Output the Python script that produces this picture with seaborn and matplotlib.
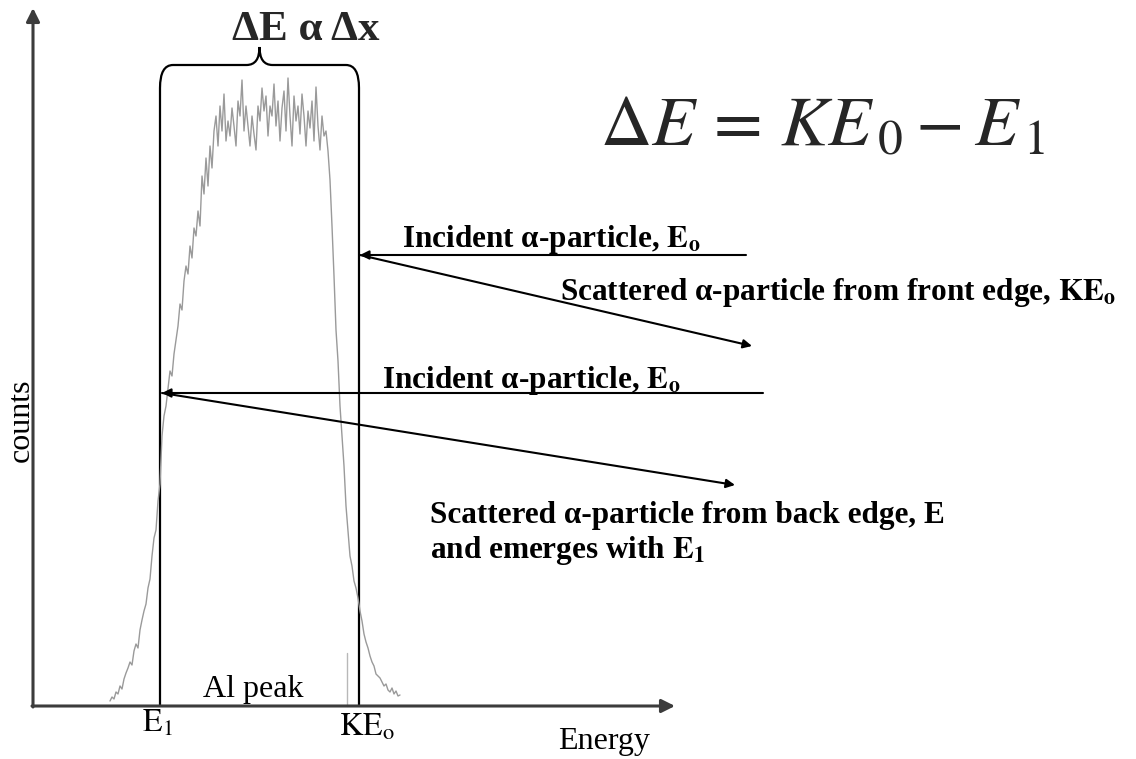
import numpy as np
import matplotlib
matplotlib.use("Agg")
import matplotlib.pyplot as plt
from matplotlib.path import Path
from matplotlib.patches import PathPatch
import seaborn as sns

# Al peak spectrum: counts per channel, channels from 77 in steps of 2
start_channel = 77
channel_step = 2
counts = [
    # low-energy tail
    5, 9, 7, 14, 12, 20, 17, 27, 33,
    38, 44, 41, 55, 62, 58, 76,
    86, 95, 102, 118, 127, 150,
    168, 176, 205, 222, 270,
    290, 300, 318, 335, 330, 352, 366,
    380, 402, 396, 425, 440, 432,
    460, 448, 478, 470, 495, 480, 530,
    512, 548, 520, 560, 538, 575,
    # plateau
    590, 560, 600, 575, 612, 565, 585, 570, 598, 580,
    560, 605, 590, 626, 575, 600, 580, 560, 590, 572,
    556, 600, 585, 618, 595, 610, 570, 600, 590, 622,
    580, 605, 565, 598, 615, 575, 628, 590, 560, 610,
    585, 600, 572, 612, 590, 560, 595, 578, 605, 565,
    619, 580, 556, 590, 570, 575, 555,
    # high-energy edge
    526, 480, 430, 376, 345, 300, 270, 240, 200, 175,
    150, 140, 125, 118, 108, 95, 85, 72, 64, 58,
    50, 44, 40, 32, 30, 28, 24, 20, 22, 16,
    14, 18, 12, 15, 10, 11,
]
energy = np.arange(start_channel, start_channel + channel_step * len(counts), channel_step)

# Characteristic energies (channel) and the brace height (counts)
e1 = 127
ke0 = 326
marker_channel = 314
marker_height = 53
brace_base = 618
brace_top = 641
brace_tip = 659

# Axis extents
x_axis_end = 642
y_axis_end = 698

# Incident / scattered beams: (start), (end)
incident_front = [(713, 451), (ke0 + 1, 451)]
scattered_front = [(ke0 + 1, 451), (719, 360)]
incident_back = [(730, 313), (e1 + 2, 313)]
scattered_back = [(e1 + 2, 313), (702, 221)]

sns.set_theme(style="white")
plt.rcParams["font.family"] = ["Liberation Serif", "DejaVu Serif"]
plt.rcParams["mathtext.fontset"] = "stix"

fig = plt.figure(figsize=(11.36, 7.59), dpi=100)
ax = fig.add_axes([0, 0, 1, 1])
ax.set_xlim(-33, 1103)
ax.set_ylim(-53, 706)
ax.axis("off")

# spectrum
sns.lineplot(x=energy, y=counts, ax=ax, color="#9a9a9a", lw=1.0,
             estimator=None, sort=False)
ax.plot([marker_channel, marker_channel], [0, marker_height], color="#b8b8b8", lw=1.0)

# axes with arrow heads
axis_arrow = dict(arrowstyle="-|>", color="#3c3c3c", lw=2.2, mutation_scale=20,
                  shrinkA=0, shrinkB=0)
ax.annotate("", xy=(0, y_axis_end), xytext=(0, -1), arrowprops=axis_arrow)
ax.annotate("", xy=(x_axis_end, 0), xytext=(-1, 0), arrowprops=axis_arrow)

# E1 / KE0 markers joined by the brace
r = 13
mid = (e1 + ke0) / 2
verts = [
    (e1, 0), (e1, brace_base),
    (e1, brace_top), (e1 + r, brace_top),
    (mid - r, brace_top),
    (mid, brace_top), (mid, brace_tip),
    (mid, brace_top), (mid + r, brace_top),
    (ke0 - r, brace_top),
    (ke0, brace_top), (ke0, brace_base),
    (ke0, 0),
]
codes = [Path.MOVETO, Path.LINETO,
         Path.CURVE3, Path.CURVE3,
         Path.LINETO,
         Path.CURVE3, Path.CURVE3,
         Path.CURVE3, Path.CURVE3,
         Path.LINETO,
         Path.CURVE3, Path.CURVE3,
         Path.LINETO]
ax.add_patch(PathPatch(Path(verts, codes), facecolor="none", edgecolor="black", lw=1.6))

# beams
beam = dict(arrowstyle="-|>", color="black", lw=1.5, mutation_scale=13,
            shrinkA=0, shrinkB=0)
for (a, b) in (incident_front, scattered_front, incident_back, scattered_back):
    ax.annotate("", xy=b, xytext=a, arrowprops=beam)

# labels
bold = dict(fontsize=22.5, fontweight="bold", color="black")
ax.text(369, 459, r"Incident α-particle, $\mathbf{E}_{\mathbf{o}}$", ha="left", va="baseline", **bold)
ax.text(527, 406, r"Scattered α-particle from front edge, $\mathbf{KE}_{\mathbf{o}}$", ha="left", va="baseline", **bold)
ax.text(349, 318, r"Incident α-particle, $\mathbf{E}_{\mathbf{o}}$", ha="left", va="baseline", **bold)
ax.text(397, 183, "Scattered α-particle from back edge, E", ha="left", va="baseline", **bold)
ax.text(397, 148, r"and emerges with $\mathbf{E}_{\mathbf{1}}$", ha="left", va="baseline", **bold)

ax.text(273, 676, "ΔE α Δx", ha="center", va="center", fontsize=31, fontweight="bold")
ax.text(789, 578, r"$\Delta E\,=\,KE_{\,0} - E_{\,1}$", ha="center", va="center", fontsize=51)

regular = dict(fontsize=23, color="black")
ax.text(220, 9, "Al peak", ha="center", va="baseline", **regular)
ax.text(124, -18, r"$\mathrm{E}_1$", ha="center", va="center", **regular)
ax.text(334, -22, r"$\mathrm{KE}_\mathrm{o}$", ha="center", va="center", **regular)
ax.text(571, -36, "Energy", ha="center", va="center", **regular)
ax.text(-12, 286, "counts", ha="center", va="center", rotation=90, **regular)

fig.savefig("out.png", dpi=100)
